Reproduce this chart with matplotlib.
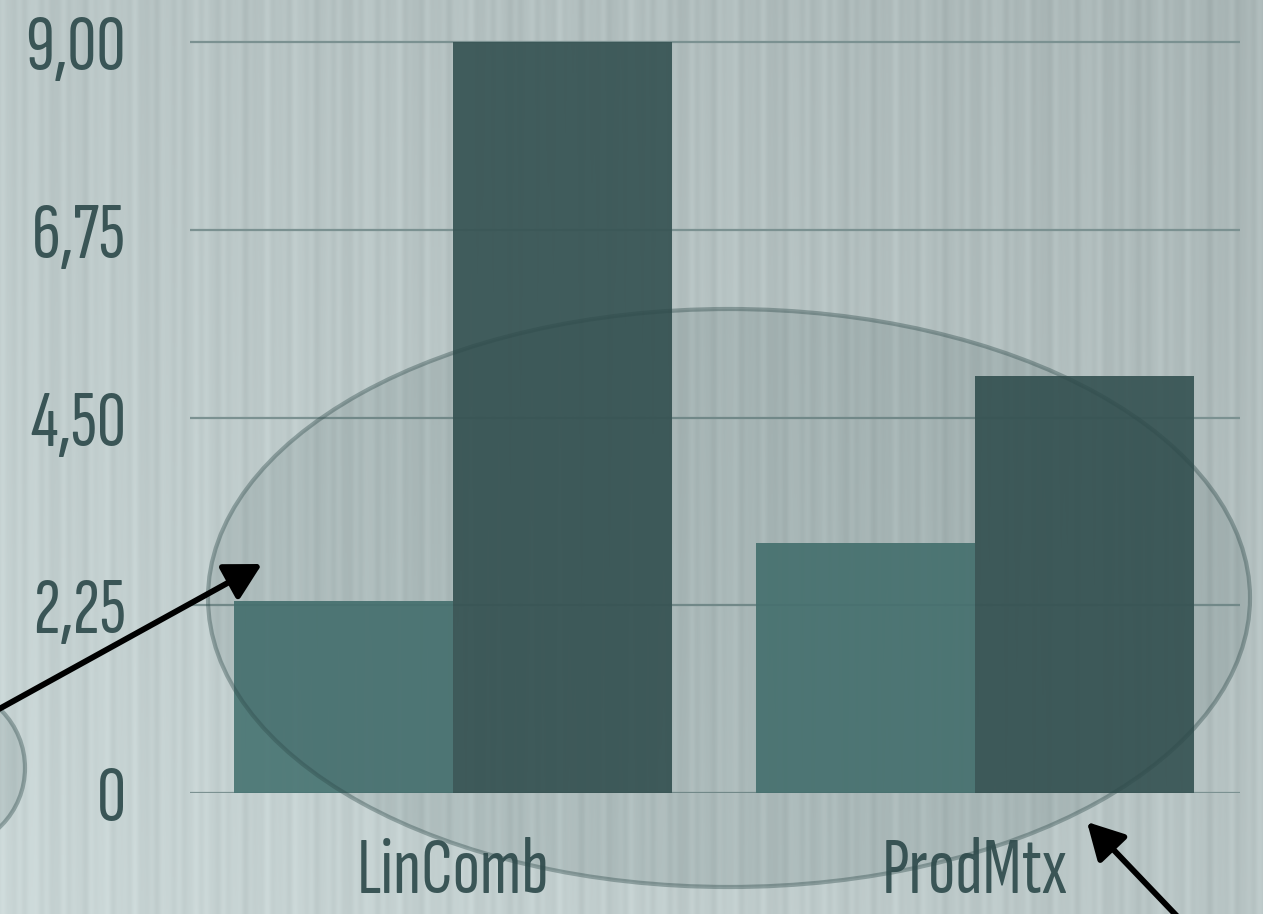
### Bar chart, LinComb vs ProdMtx, with highlight ellipse

import numpy as np
import matplotlib.pyplot as plt
from matplotlib.patches import Ellipse, FancyArrowPatch, ArrowStyle

categories = ['LinComb', 'ProdMtx']
series_a = [2.3, 3.0]   # lighter teal bars
series_b = [9.0, 5.0]   # dark teal bars
ytick_values = [0, 2.25, 4.5, 6.75, 9.0]
ytick_labels = ['0', '2,25', '4,50', '6,75', '9,00']

text_col = '#3a5556'
font = ['Sofia Sans Extra Condensed', 'Roboto Condensed', 'DejaVu Sans']

W, H = 1263, 914
fig = plt.figure(figsize=(W / 100, H / 100), dpi=100)

# background: gradient with vertical stripes
bg = fig.add_axes([0, 0, 1, 1], zorder=0)
xx = np.arange(W)
yy = np.linspace(0, 1, 200)[:, None]
gx = xx[None, :] / W
base = 0.82 - 0.07 * gx - 0.06 * (1 - yy)  # darker toward top / right
stripes = (0.012 * np.sin(xx * 0.43) + 0.010 * np.sin(xx * 0.19 + 1.3)
           + 0.007 * np.sin(xx * 0.71 + 0.4) + 0.006 * np.sin(xx * 0.071))
val = base + stripes[None, :]
img = np.dstack([val - 0.03, val + 0.02, val + 0.02])
bg.imshow(np.clip(img, 0, 1), aspect='auto', extent=[0, W, H, 0])
bg.set_xlim(0, W)
bg.set_ylim(H, 0)
bg.axis('off')

# main bar axes
ax = fig.add_axes([190 / W, (H - 793) / H, 1050 / W, 776 / H], zorder=2)
ax.patch.set_alpha(0)
x = np.arange(len(categories))
w = 0.4195
ax.bar(x - w / 2, series_a, w, color='#4a7674', alpha=0.93, zorder=3)
ax.bar(x + w / 2, series_b, w, color='#375454', alpha=0.93, zorder=3)
ax.set_xlim(-0.5038, 1.5077)
ax.set_ylim(0, 9.3)
ax.set_yticks(ytick_values)
ax.set_yticklabels(ytick_labels, family=font, fontsize=58, color=text_col)
ax.set_xticks(x)
ax.set_xticklabels(categories, family=font, fontsize=58, color=text_col)
ax.tick_params(axis='y', length=0, pad=46)
ax.tick_params(axis='x', length=0, pad=32)
ax.yaxis.grid(True, color='#7b9191', lw=1.6, zorder=1)
ax.set_axisbelow(True)
for s in ax.spines.values():
    s.set_visible(False)

# overlay: ellipses and arrows, in pixel coordinates
ov = fig.add_axes([0, 0, 1, 1], zorder=5)
ov.patch.set_alpha(0)
ov.set_xlim(0, W)
ov.set_ylim(H, 0)
ov.axis('off')
for (cx, cy, ew, eh) in [(729, 598, 1042, 578), (-55, 768, 160, 162)]:
    ov.add_patch(Ellipse((cx, cy), ew, eh, facecolor=(0.18, 0.29, 0.29, 0.12),
                         edgecolor=(0.18, 0.29, 0.29, 0.38), lw=3))
style = ArrowStyle('-|>', head_length=22, head_width=12)
for (x0, y0, x1, y1) in [(-10, 714, 262, 564), (1195, 935, 1087, 822)]:
    ov.add_patch(FancyArrowPatch((x0, y0), (x1, y1), arrowstyle=style,
                                 color='black', lw=4.2, shrinkA=0, shrinkB=0))

fig.savefig('out.png', dpi=100)
